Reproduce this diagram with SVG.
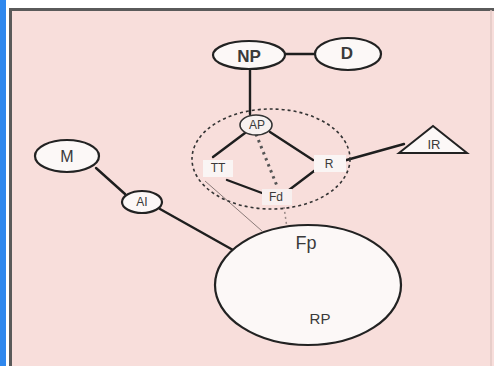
<svg xmlns="http://www.w3.org/2000/svg" width="494" height="366" viewBox="0 0 494 366">
  <style>
    .node { fill: #fcf8f7; stroke: #222; stroke-width: 2.2; }
    .small { fill: #f7f1f0; stroke: #333; stroke-width: 1.6; }
    .lbl { font-family: "Liberation Sans", Arial, sans-serif; fill: #3a3a3a; text-anchor: middle; dominant-baseline: central; }
    .edge { stroke: #1e1e1e; stroke-width: 2.4; fill: none; stroke-linecap: round; }
    .faint { stroke: #8a7a78; stroke-width: 1; fill: none; }
  </style>

  <!-- frame -->
  <rect x="0" y="0" width="494" height="366" fill="#ffffff"/>
  <rect x="0" y="0" width="6" height="366" fill="#2f88ee"/>
  <rect x="9" y="8" width="485" height="358" fill="#f8dedb"/>
  <path d="M10.5 366 V9.5 H494" fill="none" stroke="#5a5a5a" stroke-width="3"/>
  <line x1="491" y1="10" x2="491" y2="366" stroke="#e2c8c5" stroke-width="1.5"/>

  <!-- connectors -->
  <g id="connectors">
    <line class="edge" x1="285" y1="54" x2="315" y2="54" stroke-width="1.8"/>
    <line class="edge" x1="250" y1="68" x2="250" y2="114" stroke-width="4"/>
    <line class="edge" x1="245" y1="133" x2="213" y2="157"/>
    <line class="edge" x1="270" y1="132" x2="313" y2="160"/>
    <line class="edge" x1="227" y1="180" x2="262" y2="193"/>
    <line class="edge" x1="289" y1="190" x2="318" y2="168"/>
    <line class="edge" x1="343" y1="161" x2="404" y2="144"/>
    <line x1="256" y1="134" x2="277" y2="186" stroke="#555" stroke-width="3" stroke-dasharray="2.5 4"/>
    <line class="faint" x1="205" y1="181" x2="262" y2="231"/>
    <line x1="284" y1="207" x2="287" y2="228" stroke="#9a8a88" stroke-width="1.5" stroke-dasharray="2 3"/>
    <line class="edge" x1="96" y1="168" x2="125" y2="194" stroke-width="2"/>
    <line class="edge" x1="160" y1="209" x2="233" y2="250"/>
  </g>

  <!-- dashed boundary -->
  <ellipse id="boundary" cx="271" cy="159" rx="79" ry="50" fill="none" stroke="#333" stroke-width="1.6" stroke-dasharray="3 3"/>

  <g id="RP">
    <ellipse class="node" cx="308" cy="285" rx="93" ry="60"/>
    <text class="lbl" x="306" y="243" font-size="18">Fp</text>
    <text class="lbl" x="320" y="318" font-size="15">RP</text>
  </g>

  <g id="NP">
    <ellipse class="node" cx="249" cy="55" rx="36" ry="14"/>
    <text class="lbl" x="249" y="56" font-size="17" font-weight="bold">NP</text>
  </g>

  <g id="D">
    <ellipse class="node" cx="348" cy="54" rx="33" ry="16"/>
    <text class="lbl" x="347" y="53" font-size="17" font-weight="bold">D</text>
  </g>

  <g id="M">
    <ellipse class="node" cx="67" cy="156" rx="32" ry="16"/>
    <text class="lbl" x="67" y="156" font-size="16">M</text>
  </g>

  <g id="AI">
    <ellipse class="node" cx="142" cy="202" rx="20" ry="11" stroke-width="1.8"/>
    <text class="lbl" x="142" y="202" font-size="12">AI</text>
  </g>

  <g id="AP">
    <ellipse class="small" cx="256" cy="125" rx="16" ry="10"/>
    <text class="lbl" x="257" y="125" font-size="12">AP</text>
  </g>

  <g id="TT">
    <rect x="203" y="160" width="30" height="17" fill="#faf5f4" stroke="none"/>
    <text class="lbl" x="218" y="168" font-size="12">TT</text>
  </g>

  <g id="R">
    <rect x="314" y="155" width="32" height="17" fill="#faf5f4" stroke="none"/>
    <text class="lbl" x="329" y="164" font-size="12">R</text>
  </g>

  <g id="Fd">
    <rect x="262" y="189" width="30" height="16" fill="#f8f0ef" stroke="none"/>
    <text class="lbl" x="276" y="197" font-size="12">Fd</text>
  </g>

  <g id="IR">
    <polygon points="399,153 433,126 467,153" fill="#fcf8f7" stroke="#222" stroke-width="2"/>
    <text class="lbl" x="434" y="144" font-size="13">IR</text>
  </g>
</svg>
